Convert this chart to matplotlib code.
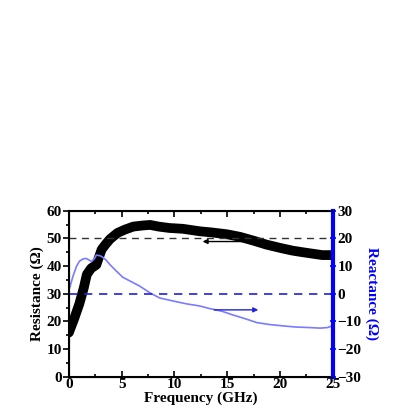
import numpy as np, matplotlib as mpl
mpl.use("Agg"); import matplotlib.pyplot as plt
from matplotlib.ticker import MultipleLocator
mpl.rcParams.update({"font.family":"serif","font.serif":["Liberation Serif","DejaVu Serif"],
    "font.weight":"bold","font.size":11})

freq_r=[0,0.5,1.0,1.4,1.7,2.1,2.6,3.1,3.5,3.9,4.6,5.3,6.1,7.0,7.7,8.5,9.5,10.8,12.4,13.5,15,16.2,17.5,18.7,20,21.2,22.2,23.1,24,25]
resist=[16,21,26.5,32,37,39.2,40.5,46,48,49.8,52,53.2,54.3,54.7,54.9,54.3,53.8,53.5,52.6,52.2,51.5,50.6,49.2,47.8,46.6,45.6,45,44.5,44,44]
freq_x=[0,0.1,0.4,0.73,1.0,1.35,1.6,1.83,2.15,2.4,2.6,2.9,3.1,3.5,3.9,4.5,5.1,6.0,6.7,7.7,8.6,10,11.1,12.4,13.3,14.5,15.5,16.7,17.8,19,20.3,21.5,22.8,23.8,24.5,25]
react=[1.5,2.5,6.5,10,11.8,12.6,12.8,12.4,11.7,12.6,14,13.8,13.5,12.3,10.5,8.2,6,4.2,2.8,0.3,-1.5,-2.7,-3.6,-4.4,-5.3,-6.3,-7.6,-9,-10.4,-11.1,-11.6,-12,-12.2,-12.4,-12.2,-11.5]

fig=plt.figure(figsize=(4.15,4.15),dpi=100)
ax=fig.add_axes([0.166,0.092,0.636,0.4])
ax.plot(freq_r,resist,c="k",lw=7,solid_capstyle="round",solid_joinstyle="round")
ax.axhline(50,c="#333",ls=(0,(5,4)),lw=1)
ax.annotate("",xy=(12.4,48.9),xytext=(16.7,48.9),
            arrowprops=dict(arrowstyle="-|>",color="k",lw=1,mutation_scale=7))
ax.set_xlim(0,25); ax.set_ylim(0,60)
ax.xaxis.set_major_locator(MultipleLocator(5)); ax.xaxis.set_minor_locator(MultipleLocator(2.5))
ax.yaxis.set_major_locator(MultipleLocator(10)); ax.yaxis.set_minor_locator(MultipleLocator(5))
ax.tick_params(axis="y",which="both",direction="out",width=1.2,pad=1)
ax.tick_params(axis="x",which="both",direction="in",top=True,width=1.2,pad=1)
ax.tick_params(which="major",length=4); ax.tick_params(which="minor",length=2)
for s in ax.spines.values(): s.set_linewidth(1.5)
ax.set_xlabel("Frequency (GHz)",fontweight="bold",labelpad=0)
ax.set_ylabel("Resistance (\u03a9)",fontweight="bold",labelpad=2)

ax2=ax.twinx()
ax2.plot(freq_x,react,c="#7b7bff",lw=1.2)
ax2.axhline(0,c="#2020e0",ls=(0,(5,4)),lw=1.2)
ax2.annotate("",xy=(18.2,-5.8),xytext=(13.5,-5.8),
             arrowprops=dict(arrowstyle="-|>",color="#2020e0",lw=1,mutation_scale=7))
ax2.set_ylim(-30,30)
ax2.yaxis.set_major_locator(MultipleLocator(10)); ax2.yaxis.set_minor_locator(MultipleLocator(5))
ax2.spines["right"].set_color("#0000ff"); ax2.spines["right"].set_linewidth(3)
ax2.tick_params(axis="y",which="both",colors="#0000ff",direction="inout",width=1.2,labelcolor="k",pad=1)
ax2.tick_params(axis="y",which="major",length=5); ax2.tick_params(axis="y",which="minor",length=3)
ax2.set_ylabel("Reactance (\u03a9)",color="#0000ff",fontweight="bold",rotation=270,labelpad=12)

fig.savefig("out.png",dpi=100)
